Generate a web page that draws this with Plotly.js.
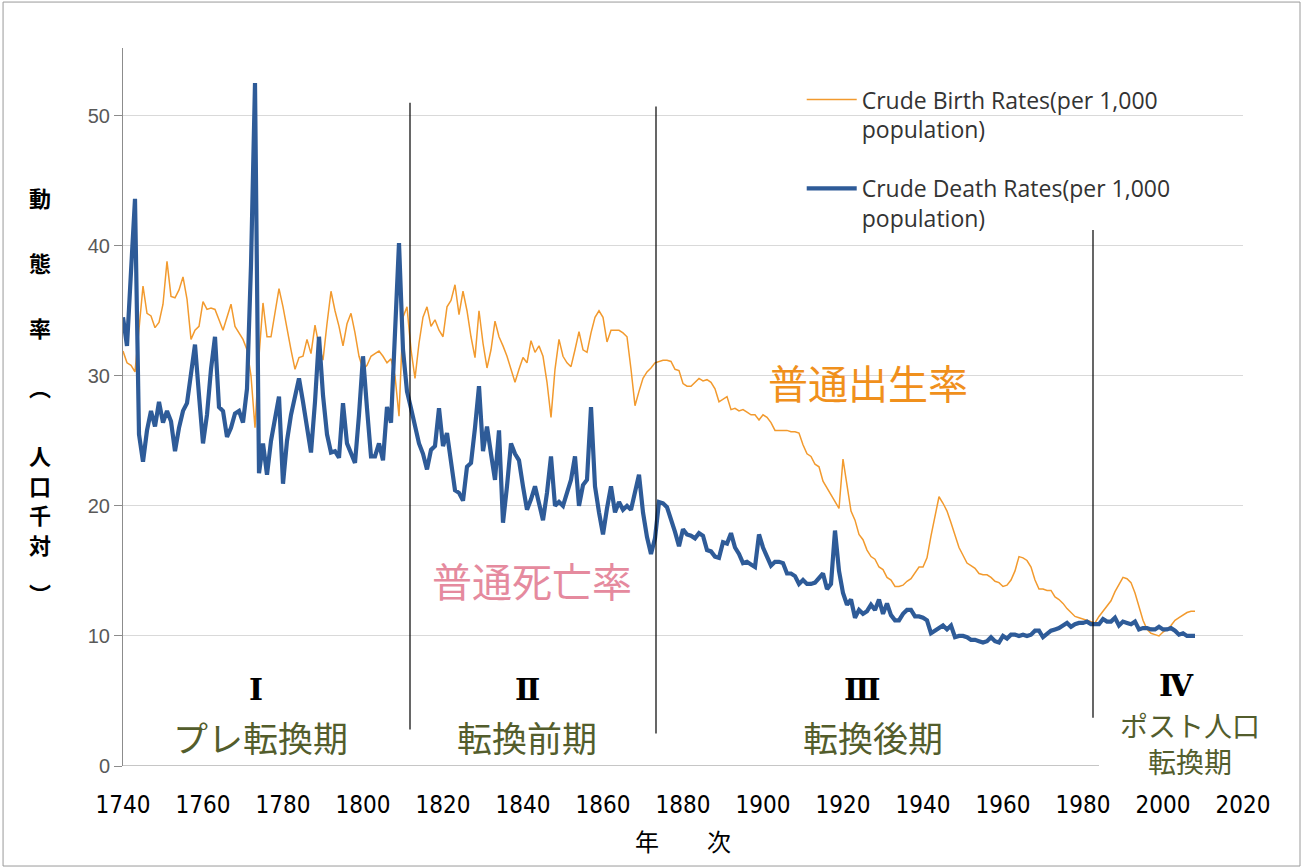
<!DOCTYPE html>
<html>
<head>
<meta charset="utf-8">
<script src="https://cdn.plot.ly/plotly-3.0.1.min.js"></script>
<style>
  html, body { margin: 0; padding: 0; background: #ffffff; }
  #chart { width: 1303px; height: 868px; }
</style>
</head>
<body>
<div id="chart"></div>
<script>
// ---------------- DATA ----------------
const startYear = 1740;
const endYear = 2008;

// Crude birth rates (per 1,000 population), one value per year 1740-2008
const birthRates = [
  31.9, 31.0, 30.8, 30.3, 33.6, 36.9, 34.8, 34.6, 33.7, 34.1, // 1740s
  35.5, 38.8, 36.1, 36.0, 36.6, 37.6, 35.9, 32.8, 33.5, 33.8, // 1750s
  35.7, 35.1, 35.2, 35.1, 34.3, 33.5, 34.5, 35.5, 33.8, 33.3, // 1760s
  32.8, 32.0, 30.0, 26.0, 31.5, 35.6, 33.0, 33.0, 34.8, 36.7, // 1770s
  35.3, 33.5, 32.0, 30.5, 31.4, 31.5, 32.8, 31.7, 33.9, 32.3, // 1780s
  31.2, 34.0, 36.5, 35.0, 33.8, 32.3, 34.0, 34.8, 33.3, 31.5, // 1790s
  30.5, 30.8, 31.5, 31.7, 31.9, 31.5, 31.0, 31.3, 30.0, 26.9, // 1800s
  34.5, 35.3, 32.0, 29.8, 32.5, 34.5, 35.3, 33.8, 34.3, 33.5, // 1810s
  33.0, 35.3, 35.8, 37.0, 34.7, 36.5, 35.0, 33.0, 31.4, 35.0, // 1820s
  32.5, 30.6, 32.0, 34.2, 33.0, 32.3, 31.5, 30.5, 29.5, 30.5, // 1830s
  31.4, 31.0, 32.7, 31.8, 32.3, 31.5, 29.5, 26.8, 30.5, 32.8, // 1840s
  31.5, 31.0, 30.7, 32.0, 33.4, 32.0, 31.8, 33.3, 34.5, 35.0, // 1850s
  34.5, 32.6, 33.5, 33.5, 33.5, 33.3, 33.0, 30.5, 27.7, 28.8, // 1860s
  29.8, 30.3, 30.6, 31.0, 31.1, 31.2, 31.2, 31.1, 30.5, 30.4, // 1870s
  29.4, 29.2, 29.2, 29.5, 29.8, 29.6, 29.7, 29.5, 29.0, 28.0, // 1880s
  28.2, 28.4, 27.4, 27.5, 27.3, 27.4, 27.2, 27.0, 27.0, 26.6, // 1890s
  27.0, 26.8, 26.4, 25.8, 25.8, 25.8, 25.8, 25.7, 25.7, 25.6, // 1900s
  24.7, 24.0, 23.8, 23.2, 23.0, 21.9, 21.4, 20.9, 20.3, 19.8, // 1910s
  23.6, 21.4, 19.6, 18.9, 17.8, 17.4, 16.6, 16.1, 15.9, 15.3, // 1920s
  15.1, 14.5, 14.3, 13.8, 13.8, 13.9, 14.2, 14.4, 14.9, 15.3, // 1930s
  15.3, 16.0, 17.7, 19.3, 20.7, 20.2, 19.6, 18.7, 17.7, 16.8, // 1940s
  16.2, 15.6, 15.4, 15.2, 14.8, 14.7, 14.7, 14.5, 14.2, 14.1, // 1950s
  13.8, 13.9, 14.3, 15.0, 16.1, 16.0, 15.8, 15.3, 14.3, 13.6, // 1960s
  13.6, 13.5, 13.5, 13.0, 12.8, 12.5, 12.1, 11.8, 11.5, 11.4, // 1970s
  11.3, 11.2, 11.1, 11.0, 11.5, 11.9, 12.3, 12.7, 13.4, 14.0, // 1980s
  14.5, 14.4, 14.1, 13.3, 12.3, 11.2, 10.5, 10.2, 10.1, 10.0, // 1990s
  10.3, 10.5, 10.8, 11.2, 11.4, 11.6, 11.8, 11.9, 11.9        // 2000-2008
];

// Crude death rates (per 1,000 population), one value per year 1740-2008
const deathRates = [
  34.5, 32.3, 38.0, 43.6, 25.5, 23.4, 25.8, 27.3, 26.1, 28.0, // 1740s
  26.4, 27.3, 26.5, 24.2, 26.0, 27.3, 27.9, 30.0, 32.4, 28.5, // 1750s
  24.8, 27.0, 30.5, 33.0, 27.6, 27.3, 25.3, 26.0, 27.1, 27.3, // 1760s
  26.4, 29.0, 38.5, 52.5, 22.5, 24.8, 22.4, 25.0, 26.5, 28.4, // 1770s
  21.7, 25.0, 27.0, 28.5, 29.8, 28.0, 26.0, 24.1, 28.0, 33.0, // 1780s
  28.5, 25.5, 24.1, 24.2, 23.7, 27.9, 24.8, 24.0, 23.3, 27.0, // 1790s
  31.5, 27.5, 23.8, 23.8, 24.8, 23.5, 27.6, 26.4, 33.0, 40.2, // 1800s
  32.0, 28.8, 27.5, 26.0, 24.8, 24.0, 22.8, 24.3, 24.6, 27.5, // 1810s
  24.6, 25.6, 23.5, 21.2, 21.0, 20.4, 23.0, 23.3, 26.0, 29.2, // 1820s
  24.2, 26.1, 24.0, 22.0, 25.8, 18.7, 21.5, 24.8, 24.0, 23.5, // 1830s
  21.5, 19.7, 20.5, 21.5, 20.2, 18.9, 21.0, 23.8, 20.0, 20.3, // 1840s
  20.0, 21.0, 22.0, 23.8, 20.0, 21.6, 22.0, 27.6, 21.5, 19.5, // 1850s
  17.8, 19.8, 21.5, 19.5, 20.3, 19.7, 20.0, 19.7, 21.0, 22.4, // 1860s
  19.5, 17.6, 16.3, 17.5, 20.3, 20.2, 19.9, 19.0, 18.0, 16.9, // 1870s
  18.2, 17.8, 17.7, 17.5, 17.9, 17.7, 16.6, 16.5, 16.1, 16.0, // 1880s
  17.2, 17.1, 17.9, 16.8, 16.3, 15.6, 15.7, 15.5, 15.3, 17.8, // 1890s
  16.8, 16.1, 15.4, 15.7, 15.7, 15.6, 14.8, 14.8, 14.6, 14.0, // 1900s
  14.3, 14.0, 14.0, 14.1, 14.4, 14.8, 13.6, 14.0, 18.1, 15.0, // 1910s
  13.3, 12.4, 12.8, 11.4, 12.0, 11.7, 11.9, 12.4, 12.0, 12.8, // 1920s
  11.7, 12.5, 11.6, 11.2, 11.2, 11.7, 12.0, 12.0, 11.5, 11.5, // 1930s
  11.4, 11.2, 10.2, 10.4, 10.6, 10.8, 10.5, 10.8, 9.9, 10.0,  // 1940s
  10.0, 9.9, 9.7, 9.7, 9.6, 9.5, 9.6, 9.9, 9.6, 9.5,          // 1950s
  10.0, 9.8, 10.1, 10.1, 10.0, 10.1, 10.0, 10.1, 10.4, 10.4,  // 1960s
  9.9, 10.2, 10.4, 10.5, 10.6, 10.8, 11.0, 10.7, 10.9, 11.0,  // 1970s
  11.0, 11.1, 10.9, 10.9, 10.9, 11.3, 11.1, 11.1, 11.4, 10.8, // 1980s
  11.1, 11.0, 10.9, 11.1, 10.5, 10.6, 10.6, 10.5, 10.5, 10.7, // 1990s
  10.5, 10.5, 10.6, 10.4, 10.1, 10.2, 10.0, 10.0, 10.0        // 2000-2008
];

const seriesNames = [
  'Crude Birth Rates(per 1,000<br>population)',
  'Crude Death Rates(per 1,000<br>population)'
];

const xTickYears = [1740, 1760, 1780, 1800, 1820, 1840, 1860, 1880, 1900, 1920, 1940, 1960, 1980, 2000, 2020];
const yTickValues = [0, 10, 20, 30, 40, 50];

// Phase boundaries (years) and labels
const phaseBoundaries = [1811.75, 1873.25, 1982.5];
const phaseNumerals = ['Ⅰ', 'Ⅱ', 'Ⅲ', 'Ⅳ'];
const phaseNames = ['プレ転換期', '転換前期', '転換後期'];
const lastPhaseName = 'ポスト人口<br>転換期';

const yTitleChars = ['動', '態', '率', '︵', '人', '口', '千', '対', '︶'];
const xTitleText = '年　　次';
const birthLabel = '普通出生率';
const deathLabel = '普通死亡率';

// ---------------- BUILD ----------------
const years = [];
for (let y = startYear; y <= endYear; y++) years.push(y);

const ORANGE = '#F29A2E';
const BLUE = '#2E5B98';
const OLIVE = '#535D2C';
const AXIS_GREY = '#8c8c8c';

const traces = [
  {
    x: years, y: birthRates, type: 'scatter', mode: 'lines',
    name: seriesNames[0], legendgroup: 'b',
    line: { color: ORANGE, width: 1.5 },
    hoverinfo: 'x+y'
  },
  {
    x: years, y: deathRates, type: 'scatter', mode: 'lines',
    name: seriesNames[1], legendgroup: 'd',
    line: { color: BLUE, width: 4.2 },
    hoverinfo: 'x+y'
  }
];

const CJK = '"Noto Sans CJK JP", "Noto Sans", sans-serif';

// vertical boundary lines (year positions; vertical extents in data units)
const lineExtents = [[2.8, 51.0], [2.5, 50.7], [3.7, 41.2]];
const shapes = phaseBoundaries.map((yr, i) => ({
  type: 'line', xref: 'x', yref: 'y',
  x0: yr, x1: yr, y0: lineExtents[i][0], y1: lineExtents[i][1],
  line: { color: '#000000', width: 1.2 }
}));
// bottom axis line (stops just after 1980 as in the original) and its tick marks
const axisLineEnd = 1984;
shapes.push({
  type: 'line', xref: 'x', yref: 'y', x0: startYear, x1: axisLineEnd, y0: 0, y1: 0,
  line: { color: AXIS_GREY, width: 1 }
});
xTickYears.filter(v => v <= axisLineEnd).forEach(v => {
  shapes.push({
    type: 'line', xref: 'x', yref: 'y', x0: v, x1: v, y0: 0, y1: -0.6,
    line: { color: AXIS_GREY, width: 1 }
  });
});
// outer chart-area border
shapes.push({
  type: 'rect', xref: 'paper', yref: 'paper',
  x0: -0.1071, x1: 1.0509, y0: -0.1393, y1: 1.0640,
  line: { color: '#9a9a9a', width: 1 }, fillcolor: 'rgba(0,0,0,0)', layer: 'below'
});

const annotations = [];
// y-axis title, written vertically character by character
const yTitlePos = [43.77, 38.77, 33.77, 29.2, 23.92, 21.62, 19.38, 17.08, 13.3];
yTitleChars.forEach((ch, i) => {
  annotations.push({
    xref: 'paper', yref: 'y', x: -0.074, y: yTitlePos[i],
    text: ch, showarrow: false, xanchor: 'center', yanchor: 'middle',
    font: { family: CJK, size: 22, color: '#000000', weight: 700 }
  });
});

// phase numerals and names
const numeralX = [1773.25, 1841, 1924.75, 2003.25];
const numeralY = [5.85, 5.85, 5.85, 6.2];
phaseNumerals.forEach((t, i) => {
  annotations.push({
    xref: 'x', yref: 'y', x: numeralX[i], y: numeralY[i], text: t, showarrow: false,
    xanchor: 'center', yanchor: 'middle',
    font: { family: '"DejaVu Serif", "Liberation Serif", serif', size: 30, color: '#000000', weight: 700 }
  });
});
const nameX = [1774.25, 1841, 1927.5];
phaseNames.forEach((t, i) => {
  annotations.push({
    xref: 'x', yref: 'y', x: nameX[i], y: 2.23, text: t, showarrow: false,
    xanchor: 'center', yanchor: 'middle',
    font: { family: CJK, size: 35, color: OLIVE }
  });
});
annotations.push({
  xref: 'x', yref: 'y', x: 2006.75, y: 1.75, text: lastPhaseName, showarrow: false,
  xanchor: 'center', yanchor: 'middle',
  font: { family: CJK, size: 28, color: OLIVE }
});

// in-plot series labels
annotations.push({
  xref: 'x', yref: 'y', x: 1926.25, y: 29.54, text: birthLabel, showarrow: false,
  xanchor: 'center', yanchor: 'middle',
  font: { family: CJK, size: 40, color: '#F0901C' }
});
annotations.push({
  xref: 'x', yref: 'y', x: 1842.25, y: 14.3, text: deathLabel, showarrow: false,
  xanchor: 'center', yanchor: 'middle',
  font: { family: CJK, size: 40, color: '#E58A9E' }
});

const layout = {
  width: 1303, height: 868,
  margin: { l: 123, r: 60, t: 48, b: 102, pad: 0 },
  paper_bgcolor: '#ffffff', plot_bgcolor: '#ffffff',
  showlegend: true,
  legend: {
    x: 0.606, y: 0.958, xanchor: 'left', yanchor: 'top',
    bgcolor: 'rgba(0,0,0,0)', borderwidth: 0,
    font: { family: '"Open Sans", "Lato", sans-serif', size: 23, color: '#333333' },
    traceorder: 'grouped', tracegroupgap: 26, valign: 'top', itemwidth: 50
  },
  xaxis: {
    range: [1740, 2020], tickmode: 'array', tickvals: xTickYears,
    ticks: '', ticklabelstandoff: 22,
    showline: false, showgrid: false, zeroline: false,
    tickfont: { family: '"Liberation Sans Narrow", "DejaVu Sans Condensed", "Liberation Sans", sans-serif', size: 24, color: '#000000' },
    title: { text: xTitleText, standoff: 16, font: { family: CJK, size: 24, color: '#000000' } }
  },
  yaxis: {
    range: [0, 55.2], tickmode: 'array', tickvals: yTickValues,
    ticks: 'outside', ticklen: 8, tickcolor: AXIS_GREY, tickwidth: 1,
    showline: true, linecolor: AXIS_GREY, linewidth: 1,
    showgrid: true, gridcolor: '#d9d9d9', gridwidth: 1, zeroline: false,
    tickfont: { family: '"Liberation Sans", Arial, sans-serif', size: 20, color: '#595959' }
  },
  shapes: shapes,
  annotations: annotations
};

Plotly.newPlot('chart', traces, layout, { staticPlot: true, displayModeBar: false });
</script>
</body>
</html>
